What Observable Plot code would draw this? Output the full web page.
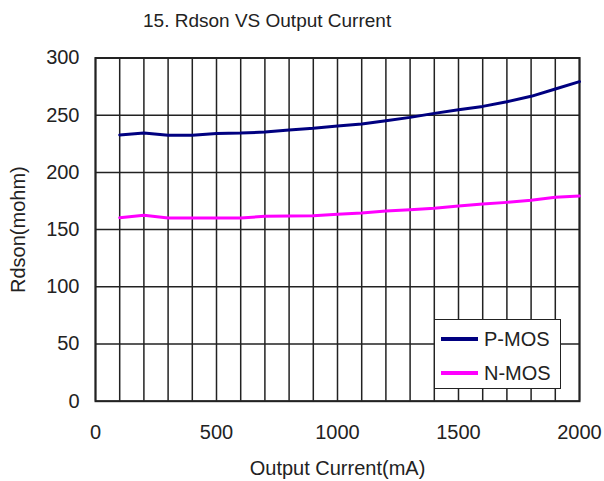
<!DOCTYPE html>
<html><head><meta charset="utf-8">
<script src="https://cdn.jsdelivr.net/npm/d3@7"></script>
<script src="https://cdn.jsdelivr.net/npm/@observablehq/plot@0.6"></script>
<style>
body{margin:0;background:#fff;font-family:"Liberation Sans",Arial,sans-serif;}
#wrap{position:relative;width:604px;height:481px;overflow:hidden;}
#title{position:relative;height:40px;font-size:19px;color:#222;}
#title span{position:absolute;left:143px;top:10px;white-space:nowrap;}
#legend{position:absolute;left:434px;top:319px;width:125px;height:68px;border:1.5px solid #222;background:#fff;font-size:20px;color:#222;}
.row{position:absolute;left:6px;height:22px;display:flex;align-items:center;}
.sw{display:inline-block;width:37px;height:4px;margin-right:6px;}
</style>
</head><body>
<div id="wrap">
  <div id="title"><span>15. Rdson VS Output Current</span></div>
  <div id="chart"></div>
  <div id="legend"></div>
</div>
<script>
const current = [100,200,300,400,500,600,700,800,900,1000,1100,1200,1300,1400,1500,1600,1700,1800,1900,2000];
const pmos = [232.7,234.5,232.4,232.4,234.1,234.4,235.3,237.0,238.5,240.5,242.3,245.2,248.1,251.6,254.8,257.7,261.8,266.5,272.9,279.3];
const nmos = [160.4,162.5,160.2,160.2,160.2,160.2,161.6,161.8,162.1,163.5,164.5,166.3,167.4,168.6,170.6,172.4,173.8,175.6,178.2,179.4];
const seriesNames = ["P-MOS","N-MOS"];
const seriesColors = ["#000080","#ff00ff"];
const xTicks = [0,500,1000,1500,2000];
const yTicks = [0,50,100,150,200,250,300];
const xGrid = d3.range(0,2001,100);

const data = [];
current.forEach((c,i)=>{
  data.push({x:c,y:pmos[i],s:seriesNames[0]});
  data.push({x:c,y:nmos[i],s:seriesNames[1]});
});

const chart = Plot.plot({
  width:604, height:441,
  marginLeft:95, marginRight:25, marginTop:17.5, marginBottom:80.3,
  style:{fontFamily:"Liberation Sans, Arial, sans-serif", fontSize:"20px", color:"#222", background:"#fff"},
  x:{domain:[0,2000]},
  y:{domain:[0,300]},
  color:{domain:seriesNames, range:seriesColors},
  marks:[
    Plot.gridX(xGrid,{stroke:"#222", strokeOpacity:1, strokeWidth:1.5}),
    Plot.gridY(yTicks,{stroke:"#222", strokeOpacity:1, strokeWidth:1.5}),
    Plot.frame({stroke:"#222", strokeWidth:2}),
    Plot.axisX({ticks:xTicks, tickFormat:d3.format("d"), tickSize:0, tickPadding:24, label:"Output Current(mA)", labelAnchor:"center", labelOffset:74, labelArrow:"none", fontSize:20}),
    Plot.axisY({ticks:yTicks, tickFormat:d3.format("d"), tickSize:0, tickPadding:16, label:"Rdson(mohm)", labelAnchor:"center", labelOffset:85, labelArrow:"none", fontSize:20}),
    Plot.line(data,{x:"x", y:"y", stroke:"s", z:"s", strokeWidth:3})
  ]
});
document.getElementById("chart").appendChild(chart);

const legend = document.getElementById("legend");
seriesNames.forEach((n,i)=>{
  const r = document.createElement("div");
  r.className="row";
  r.style.top = (8 + i*34) + "px";
  r.innerHTML = `<span class="sw" style="background:${seriesColors[i]}"></span><span>${n}</span>`;
  legend.appendChild(r);
});
</script>
</body></html>
